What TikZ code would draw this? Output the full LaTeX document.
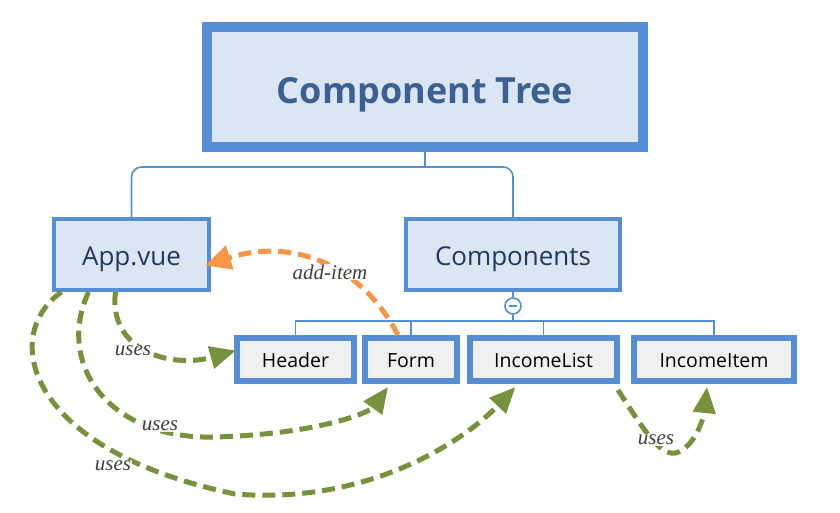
\documentclass[tikz,border=0pt]{standalone}
\usepackage{fontspec}
\setmainfont{Open Sans}
\newfontfamily\lblfont{Liberation Serif}
\usetikzlibrary{positioning,arrows.meta,calc}
\definecolor{treeblue}{HTML}{558ED5}
\definecolor{treefill}{HTML}{DCE6F2}
\definecolor{titleblue}{HTML}{3B6192}
\definecolor{navy}{HTML}{1F3864}
\definecolor{leafgray}{HTML}{F0F0F0}
\definecolor{usegreen}{HTML}{76923C}
\definecolor{addorange}{HTML}{F79646}
\begin{document}
\begin{tikzpicture}[x=1pt, y=-1pt,
  root/.style={draw=treeblue, line width=10pt, fill=treefill, minimum width=436pt, minimum height=120pt, inner sep=0pt, text height=32pt, text depth=0pt, text=titleblue, font=\fontsize{36}{40}\selectfont\bfseries},
  mid/.style={draw=treeblue, line width=4pt, fill=treefill, minimum height=71pt, inner sep=0pt, text height=22pt, text depth=0pt, text=navy, font=\fontsize{26}{30}\selectfont},
  leaf/.style={draw=treeblue, line width=6pt, fill=leafgray, minimum height=43pt, inner sep=0pt, text height=15pt, text depth=0pt, text=black, font=\fontsize{19.5}{22}\selectfont},
  link/.style={draw=treeblue, line width=1.6pt},
  uses/.style={draw=usegreen, line width=5pt, dash pattern=on 13pt off 7pt, -{Triangle[length=26pt, width=22pt, fill=usegreen]}},
  emit/.style={draw=addorange, line width=5pt, dash pattern=on 13pt off 7pt, -{Triangle[length=26pt, width=24pt, fill=addorange]}},
  lbl/.style={fill=white, fill opacity=0.85, text opacity=1, text=black!75, inner sep=1pt, font=\lblfont\itshape\fontsize{21}{24}\selectfont}]
\useasboundingbox (0,0) rectangle (840,512);
% tree
\node[root] (tree) at (425,87) {Component Tree};
\node[mid, minimum width=155pt] (app) at (131.5,254.5) {App.vue};
\node[mid, minimum width=214pt] (comp) at (513,254.5) {Components};
\node[leaf, minimum width=117pt] (hdr) at (295.5,359.5) {Header};
\node[leaf, minimum width=92pt] (form) at (411,359.5) {Form};
\node[leaf, minimum width=147pt] (ilist) at (543.5,359.5) {IncomeList};
\node[leaf, minimum width=160pt] (iitem) at (714,359.5) {IncomeItem};
\node[circle, draw=treeblue, line width=1.6pt, fill=white, minimum size=16pt, inner sep=0pt] (tog) at (513,306) {};
\draw[treeblue, line width=1.6pt] ([xshift=-4pt]tog.center) -- ([xshift=4pt]tog.center);
\draw[link] (tree.south) -- ++(0,15) coordinate (fork);
\draw[link, rounded corners=10pt] (app.north) |- (fork) -| (comp.north);
\draw[link] (comp.south) -- (tog.north);
\draw[link] (tog.south) -- ++(0,6) coordinate (bar);
\foreach \c in {hdr,form,ilist,iitem}
  \draw[link] (\c.north) |- (bar);
% events and usage
\draw[emit] ([xshift=-13pt]form.north) .. controls (360,262) and (290,238) .. ([xshift=-6pt, yshift=-11pt]app.east);
\node[lbl] (ev) at (330,272) {add-item};
\draw[uses] ([xshift=-16pt]app.south) .. controls (108,350) and (170,369) .. ([xshift=2pt, yshift=9pt]hdr.west);
\node[lbl] (u1) at (133,351) {uses};
\draw[uses] ([xshift=-43pt]app.south) .. controls (55,365) and (110,440) .. (215,437)
  .. controls (320,434) and (370,412) .. ([xshift=-23pt, yshift=-3pt]form.south);
\node[lbl] (u2) at (160,426) {uses};
\draw[uses] ([xshift=-70pt]app.south) .. controls (0,335) and (25,450) .. (235,494)
  .. controls (370,505) and (465,440) .. ([xshift=-28pt, yshift=-3pt]ilist.south);
\node[lbl] (u3) at (113,466) {uses};
\draw[uses] ([xshift=-2pt, yshift=-6pt]ilist.south east) .. controls (650,440) and (665,462) .. (682,450)
  .. controls (698,440) and (704,415) .. ([xshift=-7pt, yshift=-3pt]iitem.south);
\node[lbl] (u4) at (656,440) {uses};
\end{tikzpicture}
\end{document}
